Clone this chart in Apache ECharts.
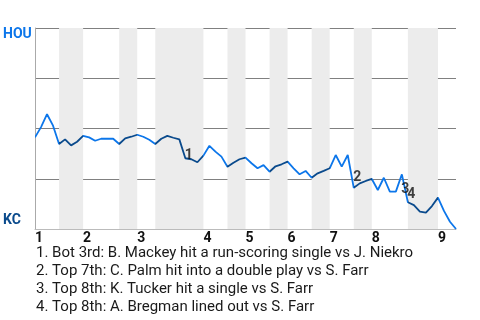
<!DOCTYPE html>
<html>
<head>
<meta charset="utf-8">
<script src="https://cdn.jsdelivr.net/npm/echarts@6/dist/echarts.min.js"></script>
<style>html,body{margin:0;padding:0;background:#fff;}#c{width:480px;height:320px;}</style>
</head>
<body>
<div id="c"></div>
<script>
// plate appearances per half inning (top 1st, bot 1st, ..., top 9th)
const halfInningPAs = [4,4,6,3,3,8,4,3,4,3,4,3,4,3,6,5,3];
// HOU win probability (%) after each plate appearance
const houWinProb = [
  45.6, 50.7, 57.1, 51.4, 42.3, 44.6, 41.6, 43.4, 46.3, 45.6,
  43.9, 44.9, 44.9, 44.9, 42.3, 45.1, 45.9, 46.9, 45.9, 44.4,
  42.3, 44.9, 46.3, 45.4, 44.6, 35.2, 34.7, 33.2, 36.5, 41.4,
  38.5, 36.0, 31.0, 33.0, 34.7, 35.5, 32.7, 30.2, 31.8, 28.5,
  31.2, 32.2, 33.5, 30.2, 27.2, 28.9, 25.5, 27.7, 28.9, 30.2,
  36.8, 31.0, 36.8, 20.5, 22.7, 23.9, 24.9, 19.4, 25.5, 18.6,
  18.6, 27.2, 13.3, 11.9, 8.6, 8.1, 11.4, 15.6, 9.0, 3.6,
  0
];
const inningLabels = ['1','2','3','4','5','6','7','8','9'];
const teamTop = 'HOU';
const teamBottom = 'KC';
const annotationIndex = [25, 53, 61, 62];
const annotationMarks = ['1','2','3','4'];
const annotationTexts = [
  '1. Bot 3rd: B. Mackey hit a run-scoring single vs J. Niekro',
  '2. Top 7th: C. Palm hit into a double play vs S. Farr',
  '3. Top 8th: K. Tucker hit a single vs S. Farr',
  '4. Top 8th: A. Bregman lined out vs S. Farr'
];

const LIGHT = '#0c76ea';
const DARK = '#0a4a8c';

// half-inning boundaries
const bounds = [0];
halfInningPAs.forEach(n => bounds.push(bounds[bounds.length-1] + n));
const total = bounds[bounds.length-1];
const pieces = [];
const bands = [];
for (let h = 0; h < halfInningPAs.length; h++) {
  const isTop = h % 2 === 0;
  pieces.push({gte: bounds[h], lt: bounds[h+1] + (h === halfInningPAs.length-1 ? 1 : 0), color: isTop ? LIGHT : DARK});
  if (!isTop) bands.push([{xAxis: bounds[h], yAxis: 0}, {xAxis: bounds[h+1], yAxis: 100}]);
}
const inningStarts = [];
const inningMap = {};
for (let k = 0; k < inningLabels.length; k++) {
  inningStarts.push(bounds[2*k]);
  inningMap[bounds[2*k]] = inningLabels[k];
}
const lineData = houWinProb.map((v, i) => [i, v]);
const markData = annotationIndex.map((idx, k) => [idx - 0.5, (houWinProb[idx-1] + houWinProb[idx]) / 2, annotationMarks[k]]);

const graphics = [
  {type:'text', left: 3, top: 27, style:{text: teamTop, font:'bold 14px Roboto', fill: LIGHT}},
  {type:'text', left: 3, top: 213, style:{text: teamBottom, font:'bold 14px Roboto', fill: DARK}}
];
annotationTexts.forEach((t, k) => {
  graphics.push({type:'text', left: 36, top: 246 + k*18, style:{text: t, font:'15px Roboto', fill:'#1a1a1a'}});
});

const chart = echarts.init(document.getElementById('c'), null, {renderer:'canvas'});
chart.setOption({
  animation: false,
  grid: {left: 35, right: 24, top: 28, bottom: 91},
  xAxis: {
    type: 'value', min: 0, max: total,
    axisLine: {show: true, lineStyle: {color: '#bbb', width: 1}},
    axisTick: {show: false},
    splitLine: {show: false},
    axisLabel: {
      customValues: inningStarts,
      formatter: v => inningMap[v] || '',
      align: 'left', margin: 2,
      fontFamily: 'Roboto', fontWeight: 'bold', fontSize: 14, color: '#111'
    }
  },
  yAxis: {
    type: 'value', min: 0, max: 100, interval: 25,
    axisLine: {show: true, lineStyle: {color: '#aaa', width: 1}},
    axisTick: {show: false},
    axisLabel: {show: false},
    splitLine: {show: true, lineStyle: {color: '#808080', width: 1}}
  },
  visualMap: {show: false, type: 'piecewise', dimension: 0, seriesIndex: 1, pieces: pieces},
  graphic: graphics,
  series: [
    {
      type: 'line', data: [], z: -1, silent: true,
      markArea: {silent: true, itemStyle: {color: '#ececec', opacity: 1, borderWidth: 0}, data: bands}
    },
    {
      type: 'line', data: lineData, showSymbol: false, symbol: 'none',
      lineStyle: {width: 1.8},
      z: 3
    },
    {
      type: 'scatter', data: markData, symbolSize: 0, z: 5,
      itemStyle: {color: 'transparent'},
      label: {show: true, position: 'inside', offset: [6.5, 6.5], formatter: p => p.data[2],
        fontFamily: 'Roboto', fontWeight: 'bold', fontSize: 14, color: '#111'}
    }
  ]
});
</script>
</body>
</html>
